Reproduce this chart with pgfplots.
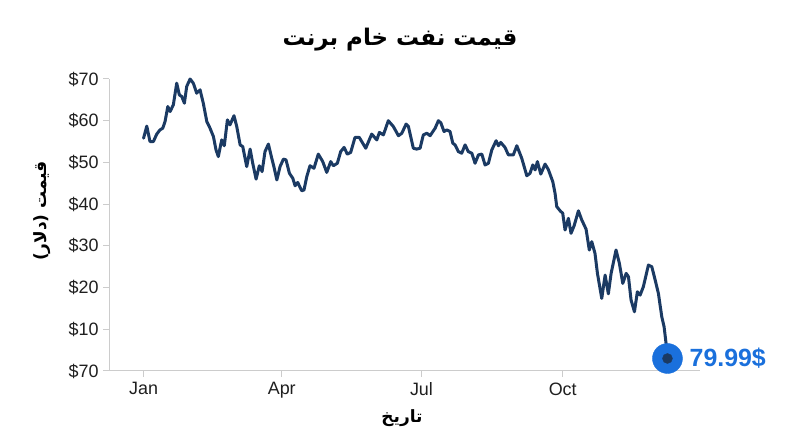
\documentclass[border=0pt]{standalone}
\usepackage{pgfplots}
\pgfplotsset{compat=1.18}
\usepackage{fontspec}
\setmainfont{Liberation Sans}
\newfontfamily\arabicfont[Script=Arabic]{DejaVu Sans}
\TeXXeTstate=1
\definecolor{linec}{HTML}{1B3A63}
\definecolor{markc}{HTML}{1A70DC}
\definecolor{axisgray}{HTML}{CCCCCC}
\pgfplotstableread{
day price
0 55.8
2.1 58.7
4.2 55.0
6.4 55.0
8.6 56.8
10.7 57.8
12.5 58.2
14.0 59.8
15.8 63.4
17.3 62.2
19.4 63.8
21.6 69.0
23.3 66.2
24.9 65.8
26.6 64.2
28.1 68.2
30.3 70.0
32.4 69.0
34.6 66.6
36.8 67.4
38.9 64.2
41.2 59.8
43.3 58.2
45.5 56.2
47.2 53.0
48.7 51.4
50.9 55.4
52.6 54.0
54.6 60.2
56.3 59.0
58.9 61.2
60.7 58.6
62.9 54.2
64.6 53.8
67.2 49.0
69.4 53.2
71.1 49.8
73.3 46.0
75.4 49.2
77.2 47.8
79.1 52.6
81.3 54.4
83.5 51.0
85.0 48.8
86.8 45.8
88.9 49.0
91.1 50.8
92.8 50.6
95.0 47.4
97.2 46.2
98.7 44.4
100.4 45.2
103.0 43.2
104.5 43.4
106.3 46.6
108.4 49.2
111.0 48.6
113.8 52.0
116.7 50.2
119.3 47.6
121.9 50.2
123.6 49.2
126.2 49.8
128.4 52.6
130.6 53.6
132.7 52.0
134.9 52.4
137.7 56.0
140.5 56.0
144.7 53.4
148.6 56.8
151.9 55.4
153.6 57.2
156.2 56.6
159.4 60.0
162.7 58.6
166.0 56.4
168.2 57.0
171.0 59.2
172.5 58.6
175.7 53.4
177.9 53.2
180.1 53.4
182.2 56.6
184.5 57.0
186.6 56.4
189.9 58.2
192.0 60.0
193.6 59.5
195.7 57.4
197.5 57.8
199.6 57.4
201.4 54.6
202.9 54.2
205.0 52.6
207.2 52.2
209.4 54.2
211.5 52.6
213.8 52.2
215.9 49.8
218.1 51.8
220.3 52.0
222.4 49.4
224.6 49.8
226.8 53.0
229.6 55.2
231.1 54.0
232.6 54.8
235.4 53.6
237.6 51.8
240.8 51.8
243.1 54.0
246.3 51.0
249.6 46.8
251.7 47.4
253.5 49.4
255.0 48.2
256.5 50.2
258.7 47.2
261.5 49.6
263.6 48.3
266.5 45.4
268.0 42.6
269.1 39.4
271.3 38.4
273.0 37.8
274.5 33.8
276.7 36.6
278.4 33.0
280.4 34.8
283.2 38.4
285.4 36.2
288.2 34.0
290.3 29.0
291.9 31.0
294.0 28.2
295.6 23.4
298.4 17.4
300.6 23.0
302.7 18.5
304.5 23.4
307.7 29.0
309.9 25.8
312.1 21.0
314.3 23.4
315.8 22.6
317.5 17.0
319.7 14.2
321.6 19.0
323.4 18.2
325.5 20.2
328.8 25.4
331.0 25.0
333.2 21.8
335.3 18.6
337.5 13.0
339.0 10.6
340.3 6.6
341.2 3.0
}\pricedata
\begin{document}
\begin{tikzpicture}[x=1bp,y=1bp]
\useasboundingbox (0,0) rectangle (800,447);
\begin{axis}[
  at={(109bp,76bp)}, anchor=south west,
  scale only axis, width=591bp, height=292bp,
  xmin=-22.5, xmax=362.4, ymin=0, ymax=70,
  axis x line*=bottom, axis y line*=left,
  axis line style={draw=axisgray, line width=1bp},
  xtick={0,90,181,273}, xticklabels={Jan,Apr,Jul,Oct},
  ytick={0,10,20,30,40,50,60,70},
  yticklabels={\$70,\$10,\$20,\$30,\$40,\$50,\$60,\$70},
  tick style={draw=axisgray, line width=1bp},
  tick align=outside, major tick length=6bp,
  ticklabel style={font=\fontsize{18}{20}\selectfont, text=black!88},
  xticklabel style={yshift=-2bp},
  yticklabel style={xshift=-1bp},
  clip=false,
]
\addplot[markc, only marks, mark=*, mark size=15bp, mark options={draw=none, fill=markc}] coordinates {(341.2,3.0)};
\addplot[linec, line width=3bp, line join=round, line cap=round] table[x=day, y=price] {\pricedata};
\addplot[linec, only marks, mark=*, mark size=5bp, mark options={draw=none, fill=linec}] coordinates {(341.2,3.0)};
\node[anchor=west, text=markc, font=\bfseries\fontsize{25}{28}\selectfont, inner sep=0pt] at (axis cs:341.2,3.0) [xshift=22bp] {79.99\$};
\end{axis}
\node[font=\arabicfont\bfseries\fontsize{23}{28}\selectfont] at (400,407) {\beginR قیمت نفت خام برنت\endR};
\node[rotate=90, font=\arabicfont\bfseries\fontsize{17}{20}\selectfont] at (42,236) {\beginR قیمت (دلار)\endR};
\node[font=\arabicfont\bfseries\fontsize{17}{20}\selectfont] at (402,29) {\beginR تاریخ\endR};
\end{tikzpicture}
\end{document}
